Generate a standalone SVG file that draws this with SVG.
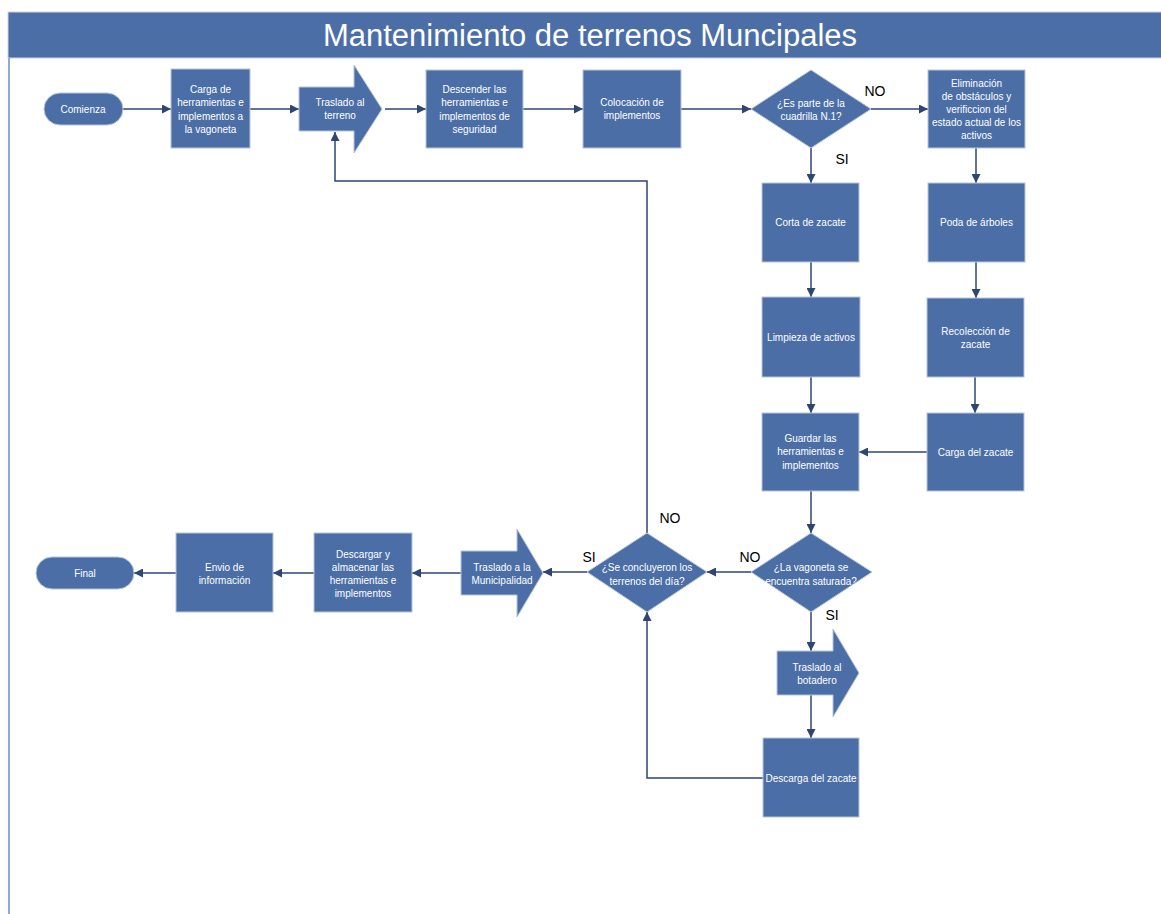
<svg xmlns="http://www.w3.org/2000/svg" width="1161" height="914" viewBox="0 0 1161 914">
<style>
.n{fill:#4b6ea7;stroke:#b9c5da;stroke-width:1}
.t{fill:#ffffff;font-family:"Liberation Sans",Arial,sans-serif;font-size:10px;text-anchor:middle}
.c{fill:none;stroke:#2e4672;stroke-width:1.5}
.l{fill:#000000;font-family:"Liberation Sans",Arial,sans-serif;font-size:14px;text-anchor:middle}
</style>
<defs>
<marker id="ah" viewBox="0 0 10 10" refX="10" refY="5" markerWidth="9" markerHeight="9" markerUnits="userSpaceOnUse" orient="auto">
<path d="M0,0 L10,5 L0,10 z" fill="#2e4672"/>
</marker>
</defs>
<rect x="0" y="0" width="1161" height="914" fill="#ffffff"/>
<g id="frame">
<rect x="8" y="12" width="1160" height="46" fill="#4b6ea7" stroke="#c9d2e2" stroke-width="1"/>
<line x1="9" y1="58" x2="9" y2="914" stroke="#8eaadb" stroke-width="2"/>
<text x="590" y="46" fill="#ffffff" font-family="'Liberation Sans',Arial,sans-serif" font-size="31" text-anchor="middle">Mantenimiento de terrenos Muncipales</text>
</g>
<g id="connectors">
<line class="c" x1="123" y1="109" x2="171" y2="109" marker-end="url(#ah)"/>
<line class="c" x1="250" y1="109" x2="299" y2="109" marker-end="url(#ah)"/>
<line class="c" x1="385" y1="109" x2="426" y2="109" marker-end="url(#ah)"/>
<line class="c" x1="523" y1="109" x2="583" y2="109" marker-end="url(#ah)"/>
<line class="c" x1="681" y1="109" x2="751" y2="109" marker-end="url(#ah)"/>
<line class="c" x1="871" y1="109" x2="928" y2="109" marker-end="url(#ah)"/>
<line class="c" x1="811" y1="148" x2="811" y2="183" marker-end="url(#ah)"/>
<line class="c" x1="976" y1="148" x2="976" y2="183" marker-end="url(#ah)"/>
<line class="c" x1="811" y1="262" x2="811" y2="297" marker-end="url(#ah)"/>
<line class="c" x1="976" y1="262" x2="976" y2="298" marker-end="url(#ah)"/>
<line class="c" x1="811" y1="377" x2="811" y2="413" marker-end="url(#ah)"/>
<line class="c" x1="975" y1="377" x2="975" y2="413" marker-end="url(#ah)"/>
<line class="c" x1="927" y1="452" x2="859" y2="452" marker-end="url(#ah)"/>
<line class="c" x1="811" y1="491" x2="811" y2="533" marker-end="url(#ah)"/>
<line class="c" x1="751" y1="572" x2="707" y2="572" marker-end="url(#ah)"/>
<line class="c" x1="811" y1="612" x2="811" y2="651" marker-end="url(#ah)"/>
<line class="c" x1="811" y1="695" x2="811" y2="738" marker-end="url(#ah)"/>
<polyline class="c" points="763,778 647,778 647,612" marker-end="url(#ah)"/>
<polyline class="c" points="647,533 647,181 335,181 335,132" marker-end="url(#ah)"/>
<line class="c" x1="587" y1="572" x2="543" y2="572" marker-end="url(#ah)"/>
<line class="c" x1="461" y1="573" x2="412" y2="573" marker-end="url(#ah)"/>
<line class="c" x1="314" y1="573" x2="273" y2="573" marker-end="url(#ah)"/>
<line class="c" x1="176" y1="573" x2="134" y2="573" marker-end="url(#ah)"/>
<text class="l" x="875" y="96">NO</text>
<text class="l" x="842" y="164">SI</text>
<text class="l" x="670" y="523">NO</text>
<text class="l" x="589" y="562">SI</text>
<text class="l" x="750" y="562">NO</text>
<text class="l" x="832" y="620">SI</text>
</g>
<g id="comienza">
<rect class="n" x="44" y="93" width="79" height="32" rx="16"/>
<text class="t" x="83" y="112.5">Comienza</text>
</g>
<g id="carga-herramientas">
<rect class="n" x="171" y="69" width="79" height="79"/>
<text class="t" x="210.5" y="92.5">Carga de</text>
<text class="t" x="210.5" y="106">herramientas e</text>
<text class="t" x="210.5" y="119.5">implementos a</text>
<text class="t" x="210.5" y="133">la vagoneta</text>
</g>
<g id="traslado-terreno">
<polygon class="n" points="299,87 354,87 354,65 382,109 354,153 354,131 299,131"/>
<text class="t" x="340" y="105.5">Traslado al</text>
<text class="t" x="340" y="119">terreno</text>
</g>
<g id="descender">
<rect class="n" x="426" y="70" width="97" height="78"/>
<text class="t" x="474.5" y="92.5">Descender las</text>
<text class="t" x="474.5" y="106">herramientas e</text>
<text class="t" x="474.5" y="119.5">implementos de</text>
<text class="t" x="474.5" y="133">seguridad</text>
</g>
<g id="colocacion">
<rect class="n" x="583" y="70" width="98" height="78"/>
<text class="t" x="632" y="105.5">Colocación de</text>
<text class="t" x="632" y="119">implementos</text>
</g>
<g id="decision-cuadrilla">
<polygon class="n" points="811,70 871,109 811,148 751,109"/>
<text class="t" x="811" y="106.5">¿Es parte de la</text>
<text class="t" x="811" y="119.5">cuadrilla N.1?</text>
</g>
<g id="eliminacion">
<rect class="n" x="928" y="70" width="97" height="78"/>
<text class="t" x="976.5" y="86.5">Eliminación</text>
<text class="t" x="976.5" y="99.5">de obstáculos y</text>
<text class="t" x="976.5" y="112.5">verificcion del</text>
<text class="t" x="976.5" y="125.5">estado actual de los</text>
<text class="t" x="976.5" y="139">activos</text>
</g>
<g id="corta">
<rect class="n" x="762" y="183" width="97" height="79"/>
<text class="t" x="810.5" y="226">Corta de zacate</text>
</g>
<g id="poda">
<rect class="n" x="928" y="183" width="97" height="79"/>
<text class="t" x="976.5" y="226">Poda de árboles</text>
</g>
<g id="limpieza">
<rect class="n" x="762" y="297" width="98" height="80"/>
<text class="t" x="811" y="340.5">Limpieza de activos</text>
</g>
<g id="recoleccion">
<rect class="n" x="927" y="298" width="97" height="79"/>
<text class="t" x="975.5" y="334.5">Recolección de</text>
<text class="t" x="975.5" y="347.5">zacate</text>
</g>
<g id="guardar">
<rect class="n" x="762" y="413" width="97" height="78"/>
<text class="t" x="810.5" y="441.5">Guardar las</text>
<text class="t" x="810.5" y="455">herramientas e</text>
<text class="t" x="810.5" y="468.5">implementos</text>
</g>
<g id="carga-zacate">
<rect class="n" x="927" y="413" width="97" height="78"/>
<text class="t" x="975.5" y="455.5">Carga del zacate</text>
</g>
<g id="decision-vagoneta">
<polygon class="n" points="811,533 872,572 811,612 751,572"/>
<text class="t" x="811" y="570.5">¿La vagoneta se</text>
<text class="t" x="811" y="584.5">encuentra saturada?</text>
</g>
<g id="decision-terrenos">
<polygon class="n" points="647,533 707,572 647,612 587,572"/>
<text class="t" x="647" y="570.5">¿Se concluyeron los</text>
<text class="t" x="647" y="584.5">terrenos del día?</text>
</g>
<g id="traslado-botadero">
<polygon class="n" points="777,651 833,651 833,629 859,673 833,717 833,695 777,695"/>
<text class="t" x="817" y="670.5">Traslado al</text>
<text class="t" x="817" y="683.5">botadero</text>
</g>
<g id="descarga-zacate">
<rect class="n" x="763" y="738" width="96" height="79"/>
<text class="t" x="811" y="781.5">Descarga del zacate</text>
</g>
<g id="traslado-municipalidad">
<polygon class="n" points="461,551 517,551 517,529 543,573 517,617 517,595 461,595"/>
<text class="t" x="502" y="570.5">Traslado a la</text>
<text class="t" x="502" y="583.5">Municipalidad</text>
</g>
<g id="descargar-almacenar">
<rect class="n" x="314" y="533" width="98" height="79"/>
<text class="t" x="363" y="557.5">Descargar y</text>
<text class="t" x="363" y="570.5">almacenar las</text>
<text class="t" x="363" y="584">herramientas e</text>
<text class="t" x="363" y="597">implementos</text>
</g>
<g id="envio">
<rect class="n" x="176" y="533" width="97" height="79"/>
<text class="t" x="224.5" y="570.5">Envio de</text>
<text class="t" x="224.5" y="583.5">información</text>
</g>
<g id="final">
<rect class="n" x="36" y="557" width="98" height="32" rx="16"/>
<text class="t" x="85" y="576.5">Final</text>
</g>
</svg>
